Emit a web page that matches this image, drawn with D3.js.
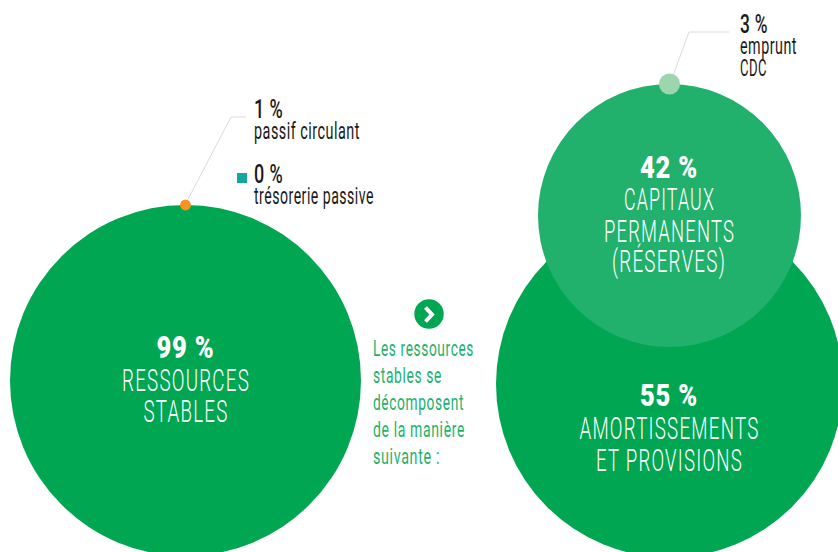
<!DOCTYPE html>
<html lang="fr">
<head>
<meta charset="utf-8">
<title>Ressources stables</title>
<script src="https://cdn.jsdelivr.net/npm/d3@7/dist/d3.min.js"></script>
<style>
html,body{margin:0;padding:0;background:#fff}
svg{display:block}
text{font-family:Roboto,"Liberation Sans",sans-serif}
</style>
</head>
<body>
<svg id="chart" width="838" height="552"></svg>
<script>
// Share of each funding source, in percent
const shareLabels = ["RESSOURCES STABLES", "AMORTISSEMENTS ET PROVISIONS", "CAPITAUX PERMANENTS (RÉSERVES)", "emprunt CDC", "passif circulant"];
const shareValues = [99, 55, 42, 3, 1];
const treasuryLabel = "trésorerie passive";
const treasuryValue = 0;

const colors = {green:"#00a651", mid:"#22b16c", pale:"#9dd5ae", orange:"#f7931e", teal:"#13a89e", ink:"#1a1a1a", leader:"#dcdcdc"};

// Bubble radius in pixels for a given percentage; the layout is editorial, so piecewise
const radius = d3.scaleLinear().domain([1, 3, 42, 55, 99]).range([5.4, 10.5, 131.5, 173.5, 175.5]);

const svg = d3.select("#chart");

// Text helper: condensed look obtained by squeezing glyphs to a set width,
// with extra tracking so the narrowed letters keep some air between them
function label(x, y, str, size, weight, fill, width, anchor, tracking) {
  return svg.append("text")
    .attr("x", x).attr("y", y).text(str)
    .attr("font-size", size).attr("font-weight", weight).attr("fill", fill)
    .attr("text-anchor", anchor || "start")
    .attr("letter-spacing", tracking || 0)
    .attr("textLength", width).attr("lengthAdjust", "spacingAndGlyphs");
}

const fmt = v => v + " %";

const bubbles = [
  {v: shareValues[0], cx: 185.5, cy: 380.5, fill: colors.green},
  {v: shareValues[1], cx: 669.5, cy: 384, fill: colors.green},
  {v: shareValues[2], cx: 669.5, cy: 215.5, fill: colors.mid},
];
svg.selectAll("circle.main").data(bubbles).join("circle").attr("class", "main")
  .attr("cx", d => d.cx).attr("cy", d => d.cy).attr("r", d => radius(d.v)).attr("fill", d => d.fill);

// Leader lines to the callouts
const leader = d3.line();
[[[185, 205], [231, 117], [246, 117]], [[670, 84], [689, 32], [729, 32]]].forEach(p => {
  svg.append("path").attr("d", leader(p)).attr("fill", "none").attr("stroke", colors.leader).attr("stroke-width", 1);
});

// Small callout dots
svg.append("circle").attr("cx", 185.5).attr("cy", 205).attr("r", radius(shareValues[4])).attr("fill", colors.orange);
svg.append("circle").attr("cx", 669.5).attr("cy", 84).attr("r", radius(shareValues[3])).attr("fill", colors.pale);

// Treasury marker
svg.append("rect").attr("x", 237).attr("y", 173).attr("width", 10).attr("height", 10).attr("fill", colors.teal);

// Central labels
const big = 31, bigTrack = 2;
label(185.5, 357.5, fmt(shareValues[0]), 32, 900, "#fff", 58, "middle", 1);
label(186, 390.5, "RESSOURCES", big, 300, "#fff", 128, "middle", bigTrack);
label(186, 422, "STABLES", big, 300, "#fff", 85, "middle", bigTrack);

label(669, 177.5, fmt(shareValues[2]), 32, 900, "#fff", 58, "middle", 1);
label(669.5, 209.5, "CAPITAUX", big, 300, "#fff", 91, "middle", bigTrack);
label(669.5, 241.5, "PERMANENTS", big, 300, "#fff", 131, "middle", bigTrack);
label(669, 272, "(RÉSERVES)", big, 300, "#fff", 114, "middle", bigTrack);

label(669, 405.8, fmt(shareValues[1]), 32, 900, "#fff", 58, "middle", 1);
label(669.5, 438.5, "AMORTISSEMENTS", big, 300, "#fff", 180, "middle", bigTrack);
label(669.5, 470.8, "ET PROVISIONS", big, 300, "#fff", 147, "middle", bigTrack);

// Callouts
label(254, 118, fmt(shareValues[4]), 26, 500, colors.ink, 29, "start", 0.5);
label(254, 138.5, shareLabels[4], 23, 400, colors.ink, 106, "start", 0.8);
label(254, 182.5, fmt(treasuryValue), 26, 500, colors.ink, 29, "start", 0.5);
label(254, 203.5, treasuryLabel, 23, 400, colors.ink, 120, "start", 0.8);
label(740, 33, fmt(shareValues[3]), 26, 500, colors.ink, 28, "start", 0.5);
label(740, 54, "emprunt", 23, 400, colors.ink, 57, "start", 0.8);
label(740, 76, "CDC", 23, 400, colors.ink, 27, "start", 0.8);

// Chevron badge
svg.append("circle").attr("cx", 429).attr("cy", 314).attr("r", 14.7).attr("fill", colors.green);
svg.append("path").attr("d", d3.line()([[425.5, 307.5], [432, 314.5], [425.5, 321.5]]))
  .attr("fill", "none").attr("stroke", "#fff").attr("stroke-width", 4);

// Side note
const noteLines = ["Les ressources", "stables se", "décomposent", "de la manière", "suivante :"];
const noteWidths = [101, 69, 91, 92, 67];
noteLines.forEach((t, i) => label(373, 356 + i * 26.9, t, 22, 400, colors.mid, noteWidths[i], "start", 1));
</script>
</body>
</html>
